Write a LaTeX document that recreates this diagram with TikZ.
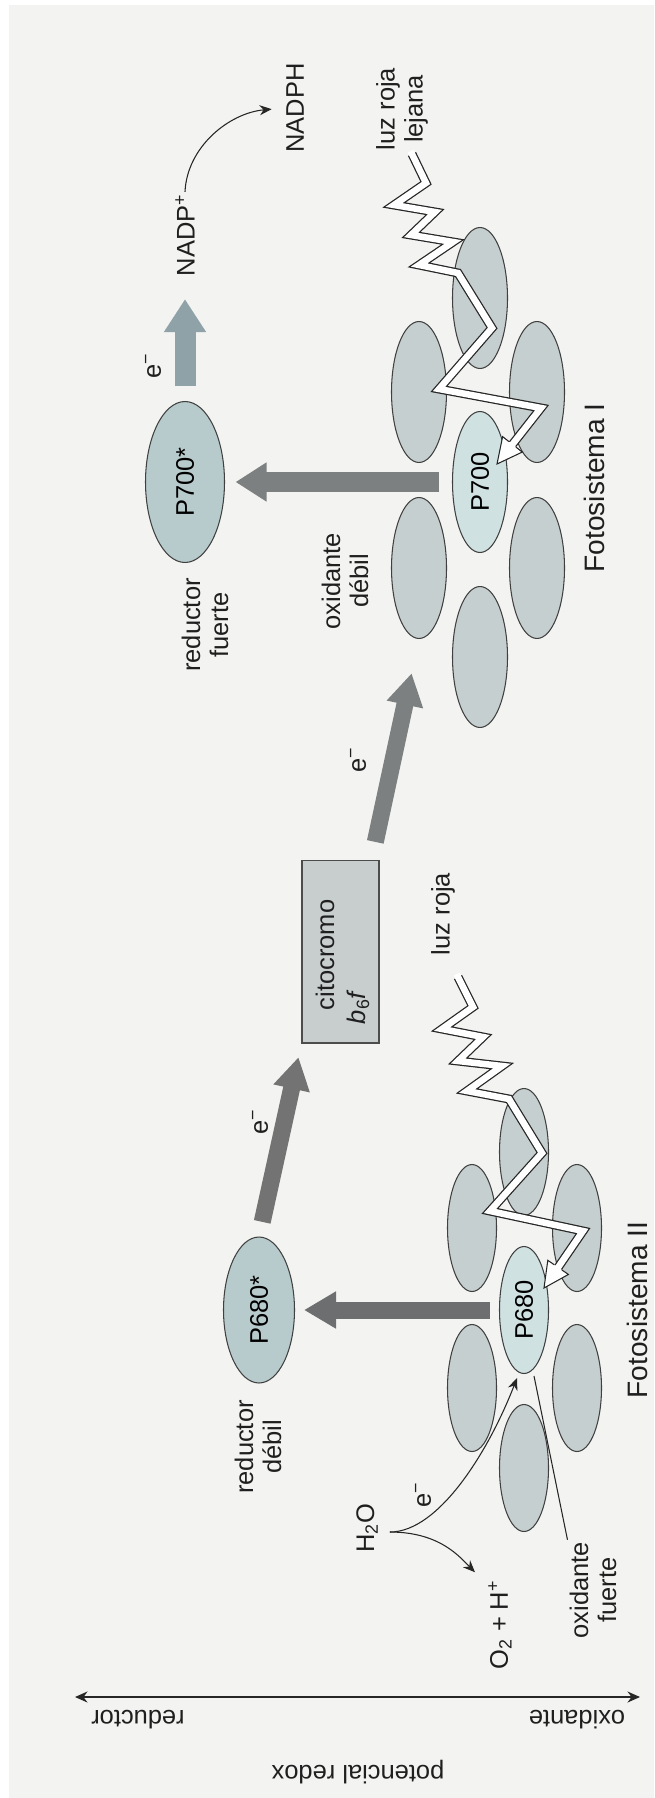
\documentclass[tikz,border=0pt]{standalone}
\usepackage{fontspec}
\setmainfont{Liberation Sans}
\usepackage{xcolor}
\definecolor{colFondo}{RGB}{243,243,241}
\definecolor{colAntena}{RGB}{198,207,207}
\definecolor{colCentro}{RGB}{208,225,225}
\definecolor{colExcit}{RGB}{184,203,204}
\definecolor{colCit}{RGB}{200,205,205}
\definecolor{colOsc}{RGB}{108,110,111}
\definecolor{colMed}{RGB}{124,128,129}
\definecolor{colAzul}{RGB}{143,162,168}
\usetikzlibrary{shapes.geometric, arrows.meta, positioning, calc}

\begin{document}
\begin{tikzpicture}[x=0.02cm, y=-0.02cm,
	txt/.style={font=\fontsize{14.5}{16}\selectfont, text=black!88, rotate=90, align=center, inner sep=1pt},
	eje/.style={font=\fontsize{14.5}{16}\selectfont, text=black!88, rotate=180, inner sep=1pt},
	antena/.style={ellipse, draw=black!75, line width=0.6pt, fill=colAntena, rotate=90, inner sep=0pt,
	               minimum width=2.54cm, minimum height=0.98cm, font=\fontsize{14.5}{16}\selectfont},
	antenaI/.style={antena, minimum width=2.82cm, minimum height=1.1cm},
	reaccion/.style={antena, fill=colCentro},
	reaccionI/.style={antenaI, fill=colCentro},
	excitado/.style={antena, fill=colExcit, minimum width=2.92cm, minimum height=1.42cm},
	citbox/.style={rectangle, draw=black!70, line width=0.6pt, fill=colCit, rotate=90,
	               minimum width=3.66cm, minimum height=1.54cm},
	flecha/.style={line width=0.34cm, -{Triangle[length=0.64cm, width=0.7cm]}},
	fina/.style={line width=0.6pt, draw=black!85, -{Stealth[length=0.24cm, width=0.2cm]}},
	rayo/.style={line width=0.13cm, draw=white, line cap=rect, preaction={draw=black!85, line width=0.18cm}},
	punta/.style={line width=0.6pt, draw=black!85}
	]
	\useasboundingbox (0,0) rectangle (654,1798);
	\fill[white] (0,0) rectangle (654,1798);
	\fill[colFondo] (9,5) rectangle (654,1798);

	% eje de potencial redox
	\coordinate (ejeR) at (75,1697);
	\coordinate (ejeO) at (640,1697);
	\draw[line width=0.75pt, draw=black!85, {Stealth[length=0.25cm, width=0.22cm]}-{Stealth[length=0.25cm, width=0.22cm]}] (ejeR) -- (ejeO);
	\node[eje] (lblR) at (138,1720) {reductor};
	\node[eje] (lblO) at (577,1720) {oxidante};
	\node[eje] (lblP) at (358,1772) {potencial redox};

	% fotosistema II
	\node[reaccion] (p680) at (524,1310) {P680};
	\node[antena] (a1) at (524,1152) {};
	\node[antena] (a2) at (524,1468) {};
	\node[antena] (a3) at (472,1228) {};
	\node[antena] (a4) at (577,1228) {};
	\node[antena] (a5) at (472,1388) {};
	\node[antena] (a6) at (577,1388) {};
	\node[excitado] (p680s) at (259,1310) {P680*};

	% fotosistema I
	\node[reaccionI] (p700) at (480,482) {P700};
	\node[antenaI] (b1) at (480,298) {};
	\node[antenaI] (b2) at (480,657) {};
	\node[antenaI] (b3) at (419,392) {};
	\node[antenaI] (b4) at (537,392) {};
	\node[antenaI] (b5) at (419,568) {};
	\node[antenaI] (b6) at (537,568) {};
	\node[excitado, minimum width=3.22cm, minimum height=1.58cm] (p700s) at (185,482) {P700*};

	% citocromo
	\node[citbox] (cyt) at (340.5,951.5) {};
	\node[txt] (cytA) at (325,955) {citocromo};
	\node[txt] (cytB) at (358,1007) {\textit{b}\textsubscript{6}\textit{f}};

	% NADP
	\node[txt] (nadp) at (185,235) {NADP\textsuperscript{+}};
	\node[txt] (nadph) at (295,108) {NADPH};
	\draw[fina, shorten >=0.25cm] (nadp.east) .. controls +(2,-45) and +(-55,5) .. (nadph.north);

	% transporte de electrones
	\draw[flecha, draw=colOsc, shorten <=0.18cm, shorten >=0.18cm] (p680.north) -- (p680s.south);
	\draw[flecha, draw=colMed, line width=0.4cm, -{Triangle[length=0.62cm, width=0.74cm]},
	      shorten <=0.25cm, shorten >=0.21cm] (p700.north) -- (p700s.south);
	\draw[flecha, draw=black!55, shorten <=0.3cm, shorten >=0.28cm] (p680s.east) -- (cyt.north west);
	\draw[flecha, draw=colMed, shorten <=0.36cm, shorten >=0.7cm] ($(cyt.south east)+(-8,0)$) -- (b5.west);
	\draw[flecha, draw=colAzul, line width=0.42cm, -{Triangle[length=0.66cm, width=0.8cm]},
	      shorten <=0.29cm, shorten >=0.42cm] (p700s.east) -- (nadp.west);

	\node[txt] (e1) at (423,1495) {e\textsuperscript{−}};
	\node[txt] (e2) at (260,1122) {e\textsuperscript{−}};
	\node[txt] (e3) at (358,760) {e\textsuperscript{−}};
	\node[txt] (e4) at (153,366) {e\textsuperscript{−}};

	% agua
	\node[txt] (h2o) at (367,1528) {H\textsubscript{2}O};
	\node[txt] (o2h) at (500,1625) {O\textsubscript{2} + H\textsuperscript{+}};
	\draw[fina] ($(h2o.south)+(10,4)$) .. controls +(50,0) and +(-27,70) .. ($(p680.west)+(-7,4)$);
	\draw[fina] ($(h2o.south)+(10,4)$) .. controls +(50,0) and +(-15,-15) .. ($(o2h.east)+(-25,-6)$);

	% rotulos
	\node[txt] (rd) at (258,1447) {reductor\\débil};
	\node[txt] (of) at (593,1590) {oxidante\\fuerte};
	\node[txt] (rf) at (205,625) {reductor\\fuerte};
	\node[txt] (od) at (345,581) {oxidante\\débil};
	\node[txt] (luzII) at (443,914) {luz roja};
	\node[txt] (luzI) at (402,109) {luz roja\\lejana};
	\node[txt, font=\fontsize{16}{18}\selectfont] (fsII) at (637,1310) {Fotosistema II};
	\node[txt, font=\fontsize{16}{18}\selectfont] (fsI) at (594,488) {Fotosistema I};
	\draw[line width=0.6pt, draw=black!85] (of.north east) -- ($(p680.west)+(10,2)$);

	% luz roja (fotosistema II)
	\coordinate (tII) at (544,1288);
	\coordinate (bII) at ($(tII)!0.5cm!(583,1231)$);
	\draw[rayo] (458,977) -- (473,1007) -- (442,1029) -- (483,1037) -- (458,1061) -- (502,1066)
	      -- (467,1091) -- (509,1099) -- (542,1153) -- (490,1211) -- (583,1231) -- (bII);
	\fill[white] (tII) -- ($(bII)!0.25cm!90:(tII)$) -- ($(bII)!0.25cm!-90:(tII)$) -- cycle;
	\draw[punta] ($(bII)!0.09cm!90:(tII)$) -- ($(bII)!0.25cm!90:(tII)$) -- (tII)
	      -- ($(bII)!0.25cm!-90:(tII)$) -- ($(bII)!0.09cm!-90:(tII)$);

	% luz roja lejana (fotosistema I)
	\coordinate (tI) at (497,464);
	\coordinate (bI) at ($(tI)!0.5cm!(541,408)$);
	\draw[rayo] (412,154) -- (426,183) -- (394,205) -- (435,212) -- (411,235) -- (453,242)
	      -- (419,265) -- (458,273) -- (492,328) -- (439,389) -- (541,408) -- (bI);
	\fill[white] (tI) -- ($(bI)!0.25cm!90:(tI)$) -- ($(bI)!0.25cm!-90:(tI)$) -- cycle;
	\draw[punta] ($(bI)!0.09cm!90:(tI)$) -- ($(bI)!0.25cm!90:(tI)$) -- (tI)
	      -- ($(bI)!0.25cm!-90:(tI)$) -- ($(bI)!0.09cm!-90:(tI)$);
\end{tikzpicture}
\end{document}
